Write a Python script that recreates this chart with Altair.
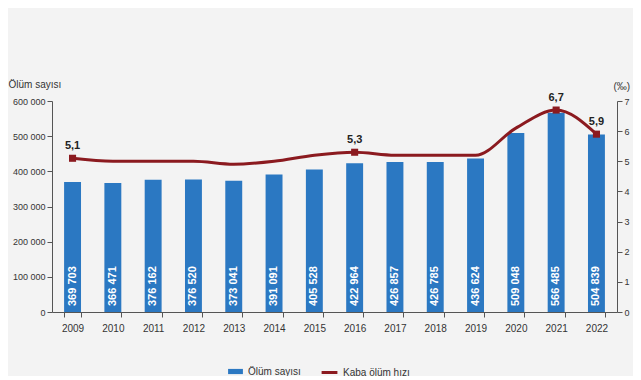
import altair as alt
import pandas as pd

years = ["2009", "2010", "2011", "2012", "2013", "2014", "2015",
         "2016", "2017", "2018", "2019", "2020", "2021", "2022"]
deaths = [369703, 366471, 376162, 376520, 373041, 391091, 405528,
          422964, 426857, 426785, 436624, 509048, 566485, 504839]
rates = [5.1, 5.0, 5.0, 5.0, 4.9, 5.0, 5.2, 5.3, 5.2, 5.2, 5.2, 6.1, 6.7, 5.9]
labeled_years = ["2009", "2016", "2021", "2022"]

df = pd.DataFrame({
    "Yıl": years,
    "deaths": deaths,
    "rate": rates,
    "bar_series": ["Ölüm sayısı"] * len(years),
    "line_series": ["Kaba ölüm hızı"] * len(years),
    "show": [y in labeled_years for y in years],
})

BLUE = "#2b78c2"
RED = "#8b1a1f"
FONT = "Liberation Sans"

x = alt.X("Yıl:N", sort=years, title=None,
          scale=alt.Scale(paddingInner=0.58, paddingOuter=0.3),
          axis=alt.Axis(labelAngle=0, tickBand="extent", domainColor="#555",
                        tickColor="#555", labelColor="#333", labelFontSize=10,
                        labelPadding=6, labelFont=FONT))

left_axis = alt.Axis(values=[0, 100000, 200000, 300000, 400000, 500000, 600000],
                     labelExpr="replace(format(datum.value, ','), ',', ' ')",
                     labelOverlap=False,
                     grid=False, domainColor="#555", tickColor="#555",
                     labelColor="#333", labelFontSize=9, labelFont=FONT,
                     titleAngle=0, titleAlign="left", titleX=-44, titleY=-12,
                     titleFontSize=10, titleFontWeight="normal", titleColor="#333",
                     titleFont=FONT)

right_axis = alt.Axis(orient="right", values=[0, 1, 2, 3, 4, 5, 6, 7], grid=False,
                      labelOverlap=False,
                      domainColor="#555", tickColor="#555", labelColor="#333",
                      labelFontSize=9, labelFont=FONT,
                      titleAngle=0, titleAlign="left", titleX=-4, titleY=-10,
                      titleFontSize=10, titleFontWeight="normal", titleColor="#333",
                      titleFont=FONT)

bars = alt.Chart(df).mark_bar(color=BLUE).encode(
    x=x,
    y=alt.Y("deaths:Q", title="Ölüm sayısı",
            scale=alt.Scale(domain=[0, 600000]), axis=left_axis),
    color=alt.Color("bar_series:N", title=None,
                    scale=alt.Scale(range=[BLUE]),
                    legend=alt.Legend(orient="none", legendX=175, legendY=262,
                                      symbolType="M-1,-0.35H1V0.35H-1Z",
                                      symbolSize=220, labelFontSize=10,
                                      labelFont=FONT, labelColor="#333")),
)

bar_text = alt.Chart(df).transform_calculate(
    lab="replace(format(datum.deaths, ','), ',', ' ')",
    zero="0",
).mark_text(angle=270, align="left", baseline="middle", dx=6, color="white",
            fontSize=11, fontWeight="bold", font=FONT).encode(
    x=alt.X("Yıl:N", sort=years),
    y=alt.Y("zero:Q", axis=left_axis, title="Ölüm sayısı"),
    text="lab:N",
)

left = alt.layer(bars, bar_text)

line = alt.Chart(df).mark_line(color=RED, strokeWidth=3, interpolate="monotone").encode(
    x=alt.X("Yıl:N", sort=years),
    y=alt.Y("rate:Q", title="(‰)",
            scale=alt.Scale(domain=[0, 7]), axis=right_axis),
    stroke=alt.Stroke("line_series:N", title=None,
                      scale=alt.Scale(range=[RED]),
                      legend=alt.Legend(orient="none", legendX=268, legendY=262,
                                        symbolType="stroke", symbolStrokeWidth=3,
                                        symbolSize=250, labelFontSize=10,
                                        labelFont=FONT, labelColor="#333")),
)

pts = alt.Chart(df).transform_filter("datum.show").mark_point(
    shape="square", filled=True, color=RED, size=50, opacity=1).encode(
    x=alt.X("Yıl:N", sort=years),
    y=alt.Y("rate:Q", title="(‰)", axis=right_axis),
)

pt_text = alt.Chart(df).transform_filter("datum.show").transform_calculate(
    lab="replace(format(datum.rate, '.1f'), '.', ',')"
).mark_text(dy=-12, fontSize=11, fontWeight="bold", color="#222", font=FONT).encode(
    x=alt.X("Yıl:N", sort=years),
    y=alt.Y("rate:Q", title="(‰)", axis=right_axis),
    text="lab:N",
)

right = alt.layer(line, pts, pt_text)

chart = alt.layer(left, right).resolve_scale(
    y="independent", color="independent"
).properties(
    width=565, height=211,
    autosize=alt.AutoSizeParams(type="none"),
    padding={"left": 44, "top": 93, "right": 16, "bottom": 64},
    background="#f3f3f3",
).configure_view(stroke=None)

chart.save("out.html", embed_options={"renderer": "svg", "actions": False})
